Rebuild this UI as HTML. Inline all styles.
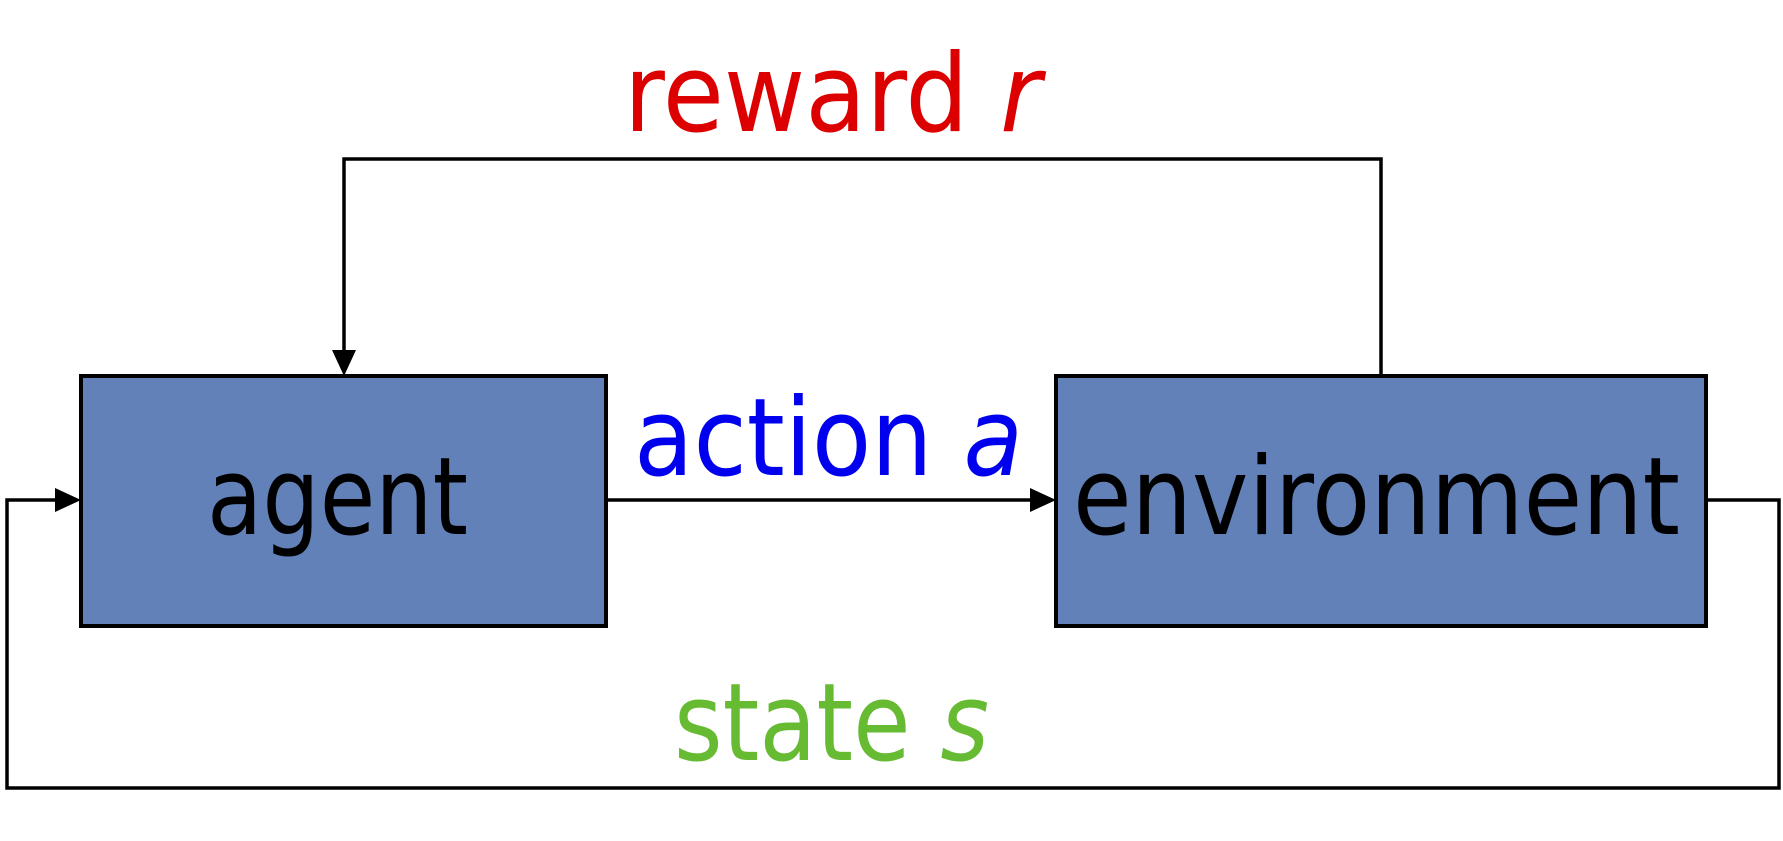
<!DOCTYPE html>
<html><head><meta charset="utf-8"><style>html,body{margin:0;padding:0;background:#fff;}svg{display:block}</style></head>
<body>
<svg width="1783" height="841" viewBox="0 0 1783 841" xmlns="http://www.w3.org/2000/svg" font-family="'DejaVu Sans','Liberation Sans',sans-serif">
<rect x="81" y="376" width="525" height="250" fill="#6281b9" stroke="#000" stroke-width="4"/>
<rect x="1056" y="376" width="650" height="250" fill="#6281b9" stroke="#000" stroke-width="4"/>
<polyline points="1381,376 1381,159 344,159 344,352" fill="none" stroke="#000" stroke-width="3.5"/>
<polygon points="332,350 356,350 344,376" fill="#000"/>
<line x1="606" y1="500" x2="1034" y2="500" stroke="#000" stroke-width="3.5"/>
<polygon points="1030,488 1030,512 1056,500" fill="#000"/>
<polyline points="1706,500 1779,500 1779,788 7,788 7,500 59,500" fill="none" stroke="#000" stroke-width="3.5"/>
<polygon points="55,488 55,512 81,500" fill="#000"/>
<text x="624" y="131" font-size="108" fill="#dd0000" textLength="417" lengthAdjust="spacingAndGlyphs">reward <tspan font-style="italic">r</tspan></text>
<text x="207" y="534" font-size="108" fill="#000" textLength="261" lengthAdjust="spacingAndGlyphs">agent</text>
<text x="1073" y="534" font-size="108" fill="#000" textLength="607" lengthAdjust="spacingAndGlyphs">environment</text>
<text x="634" y="475" font-size="108" fill="#0000ee" textLength="389" lengthAdjust="spacingAndGlyphs">action <tspan font-style="italic">a</tspan></text>
<text x="674" y="760" font-size="108" fill="#66bb33" textLength="315" lengthAdjust="spacingAndGlyphs">state <tspan font-style="italic">s</tspan></text>
</svg>
</body></html>
